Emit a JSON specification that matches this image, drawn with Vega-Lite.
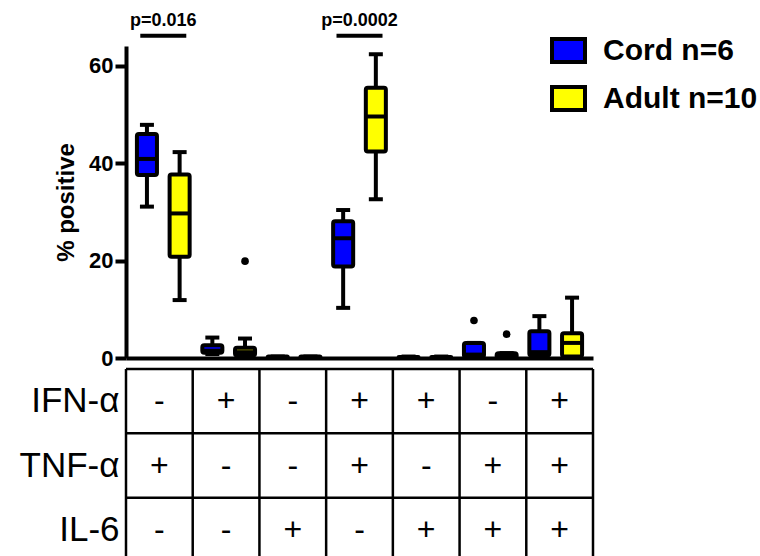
{
  "$schema": "https://vega.github.io/schema/vega-lite/v6.json",
  "autosize": {"type": "pad"},
  "padding": {"left": 19, "top": 11, "right": 0, "bottom": 0},
  "background": "white",
  "config": {
    "view": {"stroke": null},
    "font": "Liberation Sans"
  },
  "datasets": {
    "boxes": [
      {"condition": "TNF", "group": "Cord n=6", "min": 31.1, "q1": 37.6, "median": 40.9, "q3": 46.0, "max": 47.9},
      {"condition": "TNF", "group": "Adult n=10", "min": 11.9, "q1": 20.8, "median": 29.7, "q3": 37.7, "max": 42.3},
      {"condition": "IFN", "group": "Cord n=6", "min": 0.8, "q1": 1.1, "median": 1.5, "q3": 2.6, "max": 4.2},
      {"condition": "IFN", "group": "Adult n=10", "min": 0.2, "q1": 0.5, "median": 1.2, "q3": 2.1, "max": 4.0},
      {"condition": "IL-6", "group": "Cord n=6", "min": 0, "q1": 0, "median": 0.1, "q3": 0.3, "max": 0.3},
      {"condition": "IL-6", "group": "Adult n=10", "min": 0, "q1": 0, "median": 0.1, "q3": 0.3, "max": 0.3},
      {"condition": "IFN+TNF", "group": "Cord n=6", "min": 10.3, "q1": 18.8, "median": 24.6, "q3": 28.1, "max": 30.4},
      {"condition": "IFN+TNF", "group": "Adult n=10", "min": 32.6, "q1": 42.4, "median": 49.6, "q3": 55.5, "max": 62.4},
      {"condition": "IFN+IL-6", "group": "Cord n=6", "min": 0, "q1": 0, "median": 0.1, "q3": 0.2, "max": 0.3},
      {"condition": "IFN+IL-6", "group": "Adult n=10", "min": 0, "q1": 0, "median": 0.1, "q3": 0.2, "max": 0.3},
      {"condition": "TNF+IL-6", "group": "Cord n=6", "min": 0, "q1": 0.2, "median": 0.7, "q3": 3.1, "max": 3.1},
      {"condition": "TNF+IL-6", "group": "Adult n=10", "min": 0, "q1": 0, "median": 0.3, "q3": 1.0, "max": 1.0},
      {"condition": "IFN+TNF+IL-6", "group": "Cord n=6", "min": 0, "q1": 0.5, "median": 1.2, "q3": 5.5, "max": 8.6},
      {"condition": "IFN+TNF+IL-6", "group": "Adult n=10", "min": 0, "q1": 0.3, "median": 3.1, "q3": 5.1, "max": 12.4}
    ],
    "outliers": [
      {"condition": "IFN", "group": "Adult n=10", "value": 19.9},
      {"condition": "TNF+IL-6", "group": "Cord n=6", "value": 7.7},
      {"condition": "TNF+IL-6", "group": "Adult n=10", "value": 4.9}
    ],
    "pvals": [
      {"condition": "TNF", "label": "p=0.016"},
      {"condition": "IFN+TNF", "label": "p=0.0002"}
    ],
    "table": [
      {"condition": "TNF", "cytokine": "IFN-α", "sign": "-"},
      {"condition": "IFN", "cytokine": "IFN-α", "sign": "+"},
      {"condition": "IL-6", "cytokine": "IFN-α", "sign": "-"},
      {"condition": "IFN+TNF", "cytokine": "IFN-α", "sign": "+"},
      {"condition": "IFN+IL-6", "cytokine": "IFN-α", "sign": "+"},
      {"condition": "TNF+IL-6", "cytokine": "IFN-α", "sign": "-"},
      {"condition": "IFN+TNF+IL-6", "cytokine": "IFN-α", "sign": "+"},
      {"condition": "TNF", "cytokine": "TNF-α", "sign": "+"},
      {"condition": "IFN", "cytokine": "TNF-α", "sign": "-"},
      {"condition": "IL-6", "cytokine": "TNF-α", "sign": "-"},
      {"condition": "IFN+TNF", "cytokine": "TNF-α", "sign": "+"},
      {"condition": "IFN+IL-6", "cytokine": "TNF-α", "sign": "-"},
      {"condition": "TNF+IL-6", "cytokine": "TNF-α", "sign": "+"},
      {"condition": "IFN+TNF+IL-6", "cytokine": "TNF-α", "sign": "+"},
      {"condition": "TNF", "cytokine": "IL-6", "sign": "-"},
      {"condition": "IFN", "cytokine": "IL-6", "sign": "-"},
      {"condition": "IL-6", "cytokine": "IL-6", "sign": "+"},
      {"condition": "IFN+TNF", "cytokine": "IL-6", "sign": "-"},
      {"condition": "IFN+IL-6", "cytokine": "IL-6", "sign": "+"},
      {"condition": "TNF+IL-6", "cytokine": "IL-6", "sign": "+"},
      {"condition": "IFN+TNF+IL-6", "cytokine": "IL-6", "sign": "+"}
    ]
  },
  "spacing": -8,
  "vconcat": [
    {
      "width": 467,
      "height": 312,
      "encoding": {
        "x": {"field": "condition", "type": "nominal", "sort": null, "title": null,
          "scale": {"domain": ["TNF", "IFN", "IL-6", "IFN+TNF", "IFN+IL-6", "TNF+IL-6", "IFN+TNF+IL-6"], "paddingInner": 0, "paddingOuter": 0.07},
          "axis": {"orient": "bottom", "labels": false, "ticks": false, "grid": false, "domain": true, "domainWidth": 4, "domainColor": "black"}},
        "xOffset": {"field": "group", "type": "nominal", "scale": {"domain": ["Cord n=6", "Adult n=10"], "paddingInner": 0.387, "paddingOuter": 0.194}}
      },
      "layer": [
        {
          "data": {"name": "boxes"},
          "mark": {"type": "rule", "color": "black", "strokeWidth": 4},
          "encoding": {
            "y": {"field": "min", "type": "quantitative", "title": "% positive",
              "scale": {"domain": [0, 64.1], "nice": false, "zero": true},
              "axis": {"orient": "left", "values": [0, 20, 40, 60], "grid": false, "domainWidth": 4, "domainColor": "black", "tickWidth": 4, "tickSize": 11, "tickColor": "black",
                "labelFontSize": 22, "labelFontWeight": "bold", "labelPadding": 2, "labelColor": "black",
                "titleFontSize": 24, "titleFontWeight": "bold", "titlePadding": 10, "titleColor": "black"}},
            "y2": {"field": "max"}
          }
        },
        {
          "data": {"name": "boxes"},
          "mark": {"type": "tick", "color": "black", "opacity": 1, "thickness": 4, "size": 14, "orient": "horizontal"},
          "encoding": {
            "y": {"field": "max", "type": "quantitative", "title": "% positive"}
          }
        },
        {
          "data": {"name": "boxes"},
          "mark": {"type": "tick", "color": "black", "opacity": 1, "thickness": 4, "size": 14, "orient": "horizontal"},
          "encoding": {
            "y": {"field": "min", "type": "quantitative", "title": "% positive"}
          }
        },
        {
          "data": {"name": "boxes"},
          "mark": {"type": "bar", "stroke": "black", "strokeWidth": 4, "cornerRadius": 2, "opacity": 1},
          "encoding": {
            "y": {"field": "q1", "type": "quantitative", "title": "% positive"},
            "y2": {"field": "q3"},
            "color": {"field": "group", "type": "nominal",
              "scale": {"domain": ["Cord n=6", "Adult n=10"], "range": ["#0000FF", "#FFFF00"]},
              "legend": {"title": null, "orient": "none", "legendX": 424, "legendY": -14,
                "symbolType": "M-1,-0.7H1V0.7H-1Z", "symbolSize": 1089, "symbolStrokeWidth": 4, "symbolStrokeColor": "black", "symbolOpacity": 1,
                "labelFontSize": 30, "labelFontWeight": "bold", "labelColor": "black", "labelFont": "Liberation Sans", "labelOffset": 16, "rowPadding": 7}}
          }
        },
        {
          "data": {"name": "boxes"},
          "mark": {"type": "tick", "color": "black", "opacity": 1, "thickness": 4, "size": 20, "orient": "horizontal"},
          "encoding": {
            "y": {"field": "median", "type": "quantitative", "title": "% positive"}
          }
        },
        {
          "data": {"name": "outliers"},
          "mark": {"type": "point", "filled": true, "color": "black", "size": 58, "opacity": 1},
          "encoding": {
            "y": {"field": "value", "type": "quantitative", "title": "% positive"}
          }
        },
        {
          "data": {"name": "pvals"},
          "mark": {"type": "tick", "color": "black", "opacity": 1, "thickness": 4, "size": 46, "orient": "horizontal", "clip": false},
          "encoding": {
            "xOffset": null,
            "y": {"datum": 66.2, "type": "quantitative", "title": "% positive"}
          }
        },
        {
          "data": {"name": "pvals"},
          "mark": {"type": "text", "color": "black", "fontSize": 18, "fontWeight": "bold", "font": "Liberation Sans", "baseline": "alphabetic", "align": "center"},
          "encoding": {
            "xOffset": null,
            "y": {"datum": 68.3, "type": "quantitative", "title": "% positive"},
            "text": {"field": "label"}
          }
        }
      ]
    },
    {
      "width": 467,
      "height": 193,
      "data": {"name": "table"},
      "encoding": {
        "x": {"field": "condition", "type": "nominal", "sort": null, "title": null,
          "scale": {"domain": ["TNF", "IFN", "IL-6", "IFN+TNF", "IFN+IL-6", "TNF+IL-6", "IFN+TNF+IL-6"], "paddingInner": 0, "paddingOuter": 0},
          "axis": null}
      },
      "layer": [
        {
          "transform": [{"filter": "datum.cytokine === 'IFN-α'"}],
          "mark": {"type": "rule", "color": "black", "strokeWidth": 2.5},
          "encoding": {
            "x": {"field": "condition", "type": "nominal", "bandPosition": 0, "axis": null}
          }
        },
        {
          "transform": [{"filter": "datum.cytokine === 'IFN-α' && datum.condition === 'IFN+TNF+IL-6'"}],
          "mark": {"type": "rule", "color": "black", "strokeWidth": 2.5},
          "encoding": {
            "x": {"field": "condition", "type": "nominal", "bandPosition": 1, "axis": null}
          }
        },
        {
          "mark": {"type": "text", "color": "black", "fontSize": 32, "font": "Liberation Sans", "baseline": "middle", "align": "center"},
          "encoding": {
            "y": {"field": "cytokine", "type": "nominal", "title": null, "sort": null,
              "scale": {"domain": ["IFN-α", "TNF-α", "IL-6"], "paddingInner": 0, "paddingOuter": 0},
              "axis": {"orient": "left", "domain": false, "ticks": false, "grid": false, "labelFontSize": 35, "labelFontWeight": "normal", "labelFont": "Liberation Sans", "labelPadding": 7, "labelColor": "black"}},
            "text": {"field": "sign"}
          }
        },
        {
          "transform": [{"filter": "datum.condition === 'TNF'"}],
          "mark": {"type": "rule", "color": "black", "strokeWidth": 2.5},
          "encoding": {
            "x": null,
            "y": {"field": "cytokine", "type": "nominal", "bandPosition": 0, "title": null}
          }
        }
      ]
    }
  ]
}
